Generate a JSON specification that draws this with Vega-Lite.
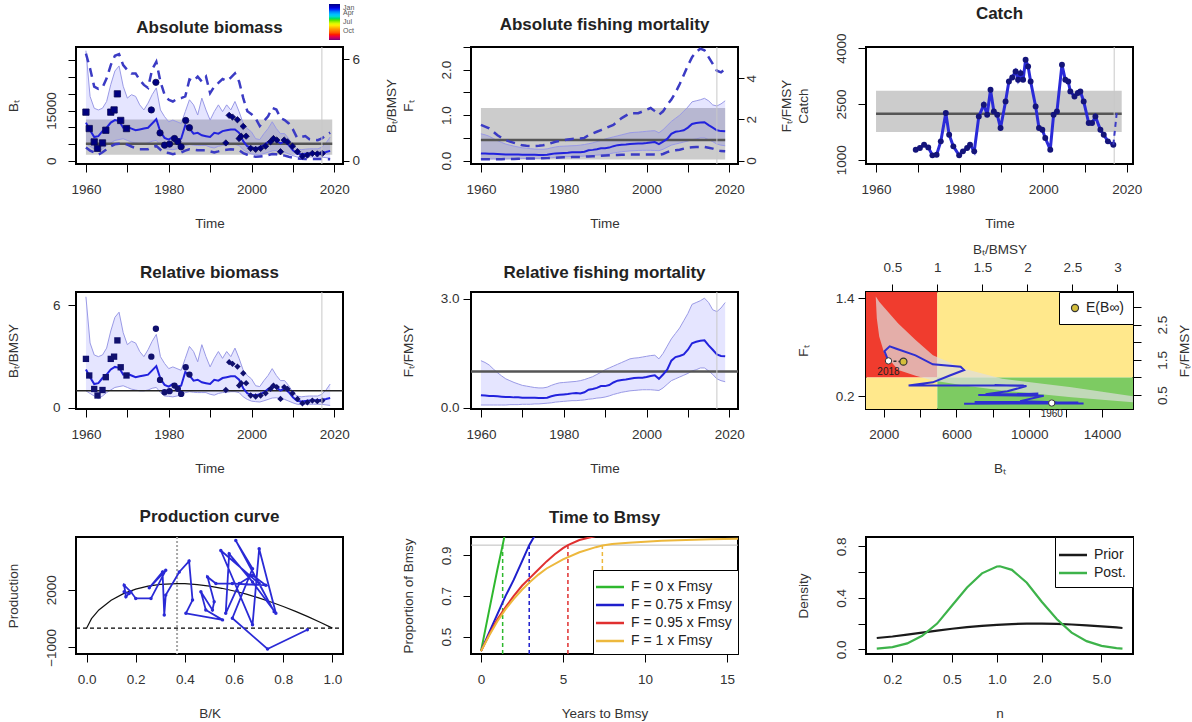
{
"$schema": "https://vega.github.io/schema/vega-lite/v6.json",
"background": "white",
"padding": {"left": 5, "top": 3, "right": 0, "bottom": 0},
"columns": 3,
"bounds": "flush",
"spacing": {"row": 128, "column": 128},
"resolve": {"scale": {"color": "independent", "fill": "independent", "stroke": "independent", "shape": "independent"}, "legend": {"color": "independent", "fill": "independent", "stroke": "independent", "shape": "independent"}},
"datasets": {
"brel": [
{"year":1960,"est":2.25,"lo":1.0,"hi":6.5,"dlo":0.78,"dhi":6.33},
{"year":1961,"est":1.8,"lo":0.85,"hi":3.8,"dlo":0.6,"dhi":5.45},
{"year":1962,"est":1.4,"lo":0.7,"hi":3.1,"dlo":0.49,"dhi":4.38},
{"year":1963,"est":1.45,"lo":0.55,"hi":3.0,"dlo":0.35,"dhi":4.25},
{"year":1964,"est":1.75,"lo":0.7,"hi":3.1,"dlo":0.5,"dhi":4.32},
{"year":1965,"est":1.95,"lo":0.9,"hi":3.5,"dlo":0.68,"dhi":4.87},
{"year":1966,"est":2.25,"lo":1.05,"hi":4.5,"dlo":0.85,"dhi":5.65},
{"year":1967,"est":2.4,"lo":1.2,"hi":5.3,"dlo":0.97,"dhi":6.2},
{"year":1968,"est":2.35,"lo":1.25,"hi":5.6,"dlo":1.0,"dhi":6.3},
{"year":1969,"est":1.95,"lo":1.3,"hi":4.4,"dlo":1.01,"dhi":5.65},
{"year":1970,"est":2.0,"lo":1.2,"hi":3.7,"dlo":0.95,"dhi":5.36},
{"year":1971,"est":1.9,"lo":1.1,"hi":3.9,"dlo":0.84,"dhi":5.16},
{"year":1972,"est":1.8,"lo":1.05,"hi":3.8,"dlo":0.75,"dhi":5.16},
{"year":1973,"est":1.85,"lo":1.0,"hi":3.3,"dlo":0.68,"dhi":4.77},
{"year":1974,"est":1.9,"lo":1.0,"hi":3.0,"dlo":0.68,"dhi":4.48},
{"year":1975,"est":1.95,"lo":1.05,"hi":3.4,"dlo":0.68,"dhi":4.3},
{"year":1976,"est":2.2,"lo":1.15,"hi":3.9,"dlo":0.8,"dhi":5.4},
{"year":1977,"est":2.45,"lo":1.2,"hi":4.3,"dlo":0.88,"dhi":5.84},
{"year":1978,"est":1.7,"lo":0.9,"hi":3.0,"dlo":0.65,"dhi":4.68},
{"year":1979,"est":1.35,"lo":0.7,"hi":2.6,"dlo":0.49,"dhi":3.9},
{"year":1980,"est":1.25,"lo":0.68,"hi":2.3,"dlo":0.45,"dhi":3.6},
{"year":1981,"est":1.4,"lo":0.65,"hi":2.4,"dlo":0.39,"dhi":3.5},
{"year":1982,"est":1.25,"lo":0.7,"hi":2.3,"dlo":0.45,"dhi":3.65},
{"year":1983,"est":1.3,"lo":0.75,"hi":2.2,"dlo":0.49,"dhi":3.7},
{"year":1984,"est":2.1,"lo":0.9,"hi":2.9,"dlo":0.6,"dhi":3.8},
{"year":1985,"est":1.9,"lo":0.95,"hi":3.6,"dlo":0.68,"dhi":4.8},
{"year":1986,"est":1.6,"lo":0.92,"hi":3.3,"dlo":0.65,"dhi":4.7},
{"year":1987,"est":1.65,"lo":0.9,"hi":2.7,"dlo":0.62,"dhi":4.97},
{"year":1988,"est":1.5,"lo":0.9,"hi":3.7,"dlo":0.62,"dhi":4.68},
{"year":1989,"est":1.45,"lo":0.9,"hi":3.0,"dlo":0.62,"dhi":4.97},
{"year":1990,"est":1.4,"lo":0.8,"hi":2.4,"dlo":0.55,"dhi":3.99},
{"year":1991,"est":1.65,"lo":0.75,"hi":2.9,"dlo":0.49,"dhi":4.38},
{"year":1992,"est":1.6,"lo":0.85,"hi":3.3,"dlo":0.55,"dhi":4.6},
{"year":1993,"est":1.75,"lo":0.9,"hi":2.9,"dlo":0.62,"dhi":4.83},
{"year":1994,"est":1.8,"lo":0.92,"hi":3.3,"dlo":0.65,"dhi":4.71},
{"year":1995,"est":1.85,"lo":0.95,"hi":3.0,"dlo":0.68,"dhi":4.91},
{"year":1996,"est":1.85,"lo":0.95,"hi":3.5,"dlo":0.66,"dhi":5.16},
{"year":1997,"est":1.65,"lo":0.9,"hi":2.9,"dlo":0.62,"dhi":4.68},
{"year":1998,"est":1.15,"lo":0.65,"hi":2.2,"dlo":0.45,"dhi":3.7},
{"year":1999,"est":0.85,"lo":0.5,"hi":1.9,"dlo":0.35,"dhi":2.92},
{"year":2000,"est":0.78,"lo":0.4,"hi":1.7,"dlo":0.28,"dhi":2.75},
{"year":2001,"est":0.73,"lo":0.37,"hi":1.3,"dlo":0.23,"dhi":2.5},
{"year":2002,"est":0.8,"lo":0.35,"hi":1.25,"dlo":0.25,"dhi":2.05},
{"year":2003,"est":0.92,"lo":0.42,"hi":1.6,"dlo":0.27,"dhi":2.34},
{"year":2004,"est":1.1,"lo":0.5,"hi":1.9,"dlo":0.33,"dhi":2.63},
{"year":2005,"est":1.25,"lo":0.58,"hi":2.3,"dlo":0.39,"dhi":3.12},
{"year":2006,"est":1.2,"lo":0.6,"hi":1.9,"dlo":0.38,"dhi":3.02},
{"year":2007,"est":1.02,"lo":0.55,"hi":1.6,"dlo":0.35,"dhi":2.53},
{"year":2008,"est":1.15,"lo":0.5,"hi":1.6,"dlo":0.3,"dhi":2.4},
{"year":2009,"est":0.92,"lo":0.4,"hi":1.3,"dlo":0.23,"dhi":2.2},
{"year":2010,"est":0.62,"lo":0.3,"hi":0.9,"dlo":0.18,"dhi":1.85},
{"year":2011,"est":0.42,"lo":0.22,"hi":0.7,"dlo":0.14,"dhi":1.36},
{"year":2012,"est":0.38,"lo":0.2,"hi":0.65,"dlo":0.12,"dhi":1.4},
{"year":2013,"est":0.41,"lo":0.21,"hi":0.68,"dlo":0.1,"dhi":1.46},
{"year":2014,"est":0.44,"lo":0.22,"hi":0.7,"dlo":0.1,"dhi":1.27},
{"year":2015,"est":0.45,"lo":0.22,"hi":0.7,"dlo":0.1,"dhi":1.24},
{"year":2016,"est":0.45,"lo":0.22,"hi":0.7,"dlo":0.1,"dhi":1.21},
{"year":2017,"est":0.48,"lo":0.21,"hi":0.8,"dlo":0.1,"dhi":1.32},
{"year":2018,"est":0.52,"lo":0.18,"hi":1.05,"dlo":0.09,"dhi":1.5},
{"year":2019,"est":0.58,"lo":0.15,"hi":1.4,"dlo":0.08,"dhi":1.66}
],
"idx": [
{"year":1960.0,"v":2.87,"s":1,"m":1},{"year":1960.8,"v":1.9,"s":1,"m":1},{"year":1962.0,"v":1.11,"s":1,"m":1},{"year":1962.8,"v":0.73,"s":1,"m":1},{"year":1964.0,"v":1.05,"s":1,"m":1},{"year":1964.8,"v":1.8,"s":1,"m":1},{"year":1966.0,"v":2.87,"s":1,"m":1},{"year":1966.8,"v":3.0,"s":1,"m":1},{"year":1967.6,"v":3.95,"s":1,"m":1},{"year":1968.4,"v":2.38,"s":1,"m":1},{"year":1969.8,"v":1.9,"s":1,"m":1},
{"year":1975.8,"v":3.0,"s":2,"m":1},{"year":1976.9,"v":4.63,"s":2,"m":1},{"year":1977.9,"v":1.64,"s":2,"m":1},{"year":1979.0,"v":0.92,"s":2,"m":1},{"year":1980.2,"v":0.98,"s":2,"m":1},{"year":1981.4,"v":1.31,"s":2,"m":1},{"year":1982.2,"v":1.12,"s":2,"m":1},{"year":1983.0,"v":0.82,"s":2,"m":1},{"year":1984.1,"v":2.38,"s":2,"m":1},{"year":1985.0,"v":1.95,"s":2,"m":1},
{"year":1993.8,"v":1.05,"s":3,"m":1},{"year":1994.6,"v":2.68,"s":3,"m":1},{"year":1995.4,"v":2.58,"s":3,"m":1},{"year":1996.6,"v":2.42,"s":3,"m":1},{"year":1997.0,"v":1.31,"s":3,"m":1},{"year":1997.5,"v":1.45,"s":3,"m":1},{"year":1998.0,"v":2.03,"s":3,"m":1},{"year":1998.7,"v":1.45,"s":3,"m":1},{"year":1999.8,"v":0.73,"s":3,"m":1},{"year":2001.0,"v":0.67,"s":3,"m":1},{"year":2002.2,"v":0.73,"s":3,"m":1},{"year":2003.4,"v":0.86,"s":3,"m":1},{"year":2004.6,"v":1.12,"s":3,"m":1},{"year":2005.3,"v":1.31,"s":3,"m":1},{"year":2006.1,"v":1.22,"s":3,"m":1},{"year":2007.0,"v":0.53,"s":3,"m":1},{"year":2007.9,"v":1.22,"s":3,"m":1},{"year":2008.7,"v":1.11,"s":3,"m":1},{"year":2009.9,"v":0.86,"s":3,"m":1},{"year":2011.1,"v":0.53,"s":3,"m":1},{"year":2012.3,"v":0.27,"s":3,"m":1},{"year":2013.5,"v":0.33,"s":3,"m":1},{"year":2014.7,"v":0.43,"s":3,"m":1},{"year":2015.9,"v":0.4,"s":3,"m":1},{"year":2017.1,"v":0.43,"s":3,"m":1}
],
"frel": [
{"year":1960,"est":0.35,"lo":0.08,"hi":1.3,"dlo":0.07,"dhi":1.73},
{"year":1961,"est":0.34,"lo":0.08,"hi":1.25,"dlo":0.07,"dhi":1.65},
{"year":1962,"est":0.33,"lo":0.08,"hi":1.18,"dlo":0.07,"dhi":1.56},
{"year":1963,"est":0.33,"lo":0.08,"hi":1.07,"dlo":0.07,"dhi":1.4},
{"year":1964,"est":0.32,"lo":0.08,"hi":0.97,"dlo":0.07,"dhi":1.23},
{"year":1965,"est":0.31,"lo":0.08,"hi":0.88,"dlo":0.07,"dhi":1.1},
{"year":1966,"est":0.3,"lo":0.08,"hi":0.8,"dlo":0.08,"dhi":0.99},
{"year":1967,"est":0.3,"lo":0.09,"hi":0.75,"dlo":0.08,"dhi":0.92},
{"year":1968,"est":0.29,"lo":0.09,"hi":0.7,"dlo":0.08,"dhi":0.86},
{"year":1969,"est":0.29,"lo":0.09,"hi":0.66,"dlo":0.09,"dhi":0.8},
{"year":1970,"est":0.28,"lo":0.1,"hi":0.62,"dlo":0.1,"dhi":0.74},
{"year":1971,"est":0.28,"lo":0.1,"hi":0.6,"dlo":0.1,"dhi":0.72},
{"year":1972,"est":0.28,"lo":0.1,"hi":0.58,"dlo":0.1,"dhi":0.71},
{"year":1973,"est":0.28,"lo":0.11,"hi":0.56,"dlo":0.1,"dhi":0.71},
{"year":1974,"est":0.27,"lo":0.11,"hi":0.55,"dlo":0.11,"dhi":0.72},
{"year":1975,"est":0.27,"lo":0.12,"hi":0.55,"dlo":0.11,"dhi":0.74},
{"year":1976,"est":0.28,"lo":0.13,"hi":0.57,"dlo":0.12,"dhi":0.78},
{"year":1977,"est":0.32,"lo":0.14,"hi":0.62,"dlo":0.13,"dhi":0.85},
{"year":1978,"est":0.35,"lo":0.16,"hi":0.66,"dlo":0.14,"dhi":0.91},
{"year":1979,"est":0.36,"lo":0.17,"hi":0.69,"dlo":0.15,"dhi":0.95},
{"year":1980,"est":0.37,"lo":0.18,"hi":0.7,"dlo":0.16,"dhi":0.99},
{"year":1981,"est":0.38,"lo":0.19,"hi":0.71,"dlo":0.16,"dhi":1.02},
{"year":1982,"est":0.4,"lo":0.2,"hi":0.72,"dlo":0.17,"dhi":1.05},
{"year":1983,"est":0.41,"lo":0.2,"hi":0.73,"dlo":0.18,"dhi":1.07},
{"year":1984,"est":0.4,"lo":0.21,"hi":0.75,"dlo":0.18,"dhi":1.07},
{"year":1985,"est":0.43,"lo":0.22,"hi":0.78,"dlo":0.19,"dhi":1.1},
{"year":1986,"est":0.5,"lo":0.24,"hi":0.82,"dlo":0.2,"dhi":1.23},
{"year":1987,"est":0.52,"lo":0.25,"hi":0.86,"dlo":0.21,"dhi":1.32},
{"year":1988,"est":0.55,"lo":0.27,"hi":0.92,"dlo":0.22,"dhi":1.4},
{"year":1989,"est":0.6,"lo":0.28,"hi":0.98,"dlo":0.23,"dhi":1.48},
{"year":1990,"est":0.6,"lo":0.3,"hi":1.05,"dlo":0.25,"dhi":1.56},
{"year":1991,"est":0.63,"lo":0.33,"hi":1.1,"dlo":0.26,"dhi":1.65},
{"year":1992,"est":0.7,"lo":0.37,"hi":1.15,"dlo":0.27,"dhi":1.73},
{"year":1993,"est":0.75,"lo":0.4,"hi":1.2,"dlo":0.27,"dhi":1.9},
{"year":1994,"est":0.77,"lo":0.43,"hi":1.25,"dlo":0.28,"dhi":2.06},
{"year":1995,"est":0.78,"lo":0.45,"hi":1.3,"dlo":0.28,"dhi":2.18},
{"year":1996,"est":0.8,"lo":0.47,"hi":1.35,"dlo":0.29,"dhi":2.3},
{"year":1997,"est":0.82,"lo":0.48,"hi":1.37,"dlo":0.29,"dhi":2.3},
{"year":1998,"est":0.83,"lo":0.49,"hi":1.38,"dlo":0.3,"dhi":2.3},
{"year":1999,"est":0.83,"lo":0.5,"hi":1.4,"dlo":0.3,"dhi":2.38},
{"year":2000,"est":0.85,"lo":0.5,"hi":1.42,"dlo":0.3,"dhi":2.47},
{"year":2001,"est":0.88,"lo":0.5,"hi":1.44,"dlo":0.3,"dhi":2.55},
{"year":2002,"est":0.9,"lo":0.49,"hi":1.45,"dlo":0.29,"dhi":2.4},
{"year":2003,"est":0.8,"lo":0.48,"hi":1.35,"dlo":0.28,"dhi":2.22},
{"year":2004,"est":0.92,"lo":0.55,"hi":1.5,"dlo":0.32,"dhi":2.39},
{"year":2005,"est":1.05,"lo":0.65,"hi":1.7,"dlo":0.41,"dhi":2.7},
{"year":2006,"est":1.3,"lo":0.75,"hi":1.9,"dlo":0.47,"dhi":2.96},
{"year":2007,"est":1.4,"lo":0.8,"hi":2.05,"dlo":0.5,"dhi":3.3},
{"year":2008,"est":1.43,"lo":0.85,"hi":2.2,"dlo":0.53,"dhi":3.7},
{"year":2009,"est":1.47,"lo":0.9,"hi":2.4,"dlo":0.58,"dhi":4.15},
{"year":2010,"est":1.6,"lo":0.95,"hi":2.6,"dlo":0.63,"dhi":4.61},
{"year":2011,"est":1.78,"lo":1.02,"hi":2.85,"dlo":0.65,"dhi":5.02},
{"year":2012,"est":1.82,"lo":1.05,"hi":2.9,"dlo":0.66,"dhi":5.27},
{"year":2013,"est":1.85,"lo":1.1,"hi":2.95,"dlo":0.66,"dhi":5.43},
{"year":2014,"est":1.86,"lo":1.1,"hi":3.02,"dlo":0.66,"dhi":5.35},
{"year":2015,"est":1.72,"lo":1.02,"hi":2.9,"dlo":0.62,"dhi":5.02},
{"year":2016,"est":1.6,"lo":0.92,"hi":2.7,"dlo":0.58,"dhi":4.69},
{"year":2017,"est":1.47,"lo":0.8,"hi":2.65,"dlo":0.52,"dhi":4.36},
{"year":2018,"est":1.43,"lo":0.75,"hi":2.75,"dlo":0.46,"dhi":4.28},
{"year":2019,"est":1.42,"lo":0.72,"hi":2.9,"dlo":0.45,"dhi":4.44}
],
"catch": [
{"year":1969.5,"c":1269},{"year":1970.5,"c":1313},{"year":1971.5,"c":1403},{"year":1972.5,"c":1331},{"year":1973.5,"c":1116},{"year":1974.5,"c":1134},{"year":1975.5,"c":1493},{"year":1976.7,"c":2254},{"year":1977.5,"c":1672},{"year":1978.5,"c":1358},{"year":1979.9,"c":1116},{"year":1980.8,"c":1224},{"year":1981.8,"c":1313},{"year":1982.5,"c":1403},{"year":1983.5,"c":1224},{"year":1984.6,"c":2164},{"year":1985.8,"c":2478},{"year":1986.6,"c":2209},{"year":1987.4,"c":2881},{"year":1988.2,"c":2298},{"year":1989.0,"c":2209},{"year":1989.8,"c":1851},{"year":1991.0,"c":2567},{"year":1991.8,"c":3104},{"year":1992.6,"c":3212},{"year":1993.4,"c":3373},{"year":1994.0,"c":3149},{"year":1994.6,"c":3328},{"year":1995.2,"c":3149},{"year":1995.8,"c":3687},{"year":1996.4,"c":3507},{"year":1997.0,"c":3104},{"year":1998.2,"c":2433},{"year":1999.0,"c":1851},{"year":1999.8,"c":1806},{"year":2000.5,"c":1582},{"year":2001.7,"c":1269},{"year":2002.5,"c":2209},{"year":2003.3,"c":2298},{"year":2004.5,"c":3552},{"year":2005.3,"c":3149},{"year":2006.0,"c":3104},{"year":2006.5,"c":2836},{"year":2007.5,"c":2701},{"year":2008.3,"c":2791},{"year":2008.9,"c":2836},{"year":2009.7,"c":2567},{"year":2010.9,"c":1985},{"year":2011.7,"c":1985},{"year":2012.5,"c":2164},{"year":2013.7,"c":1806},{"year":2014.5,"c":1672},{"year":2015.5,"c":1493},{"year":2016.8,"c":1403}
],
"zones": [
{"x1":1028,"x2":4950,"y1":0.43,"y2":1.474,"zone":"red"},
{"x1":1028,"x2":4950,"y1":0.044,"y2":0.43,"zone":"yellow"},
{"x1":4950,"x2":15706,"y1":0.43,"y2":1.474,"zone":"yellow"},
{"x1":4950,"x2":15706,"y1":0.044,"y2":0.43,"zone":"green"}
],
"banana": [
{"B":1566,"lo":1.4,"hi":1.42},{"B":1623,"lo":1.15,"hi":1.4},{"B":1754,"lo":0.93,"hi":1.355},{"B":2040,"lo":0.72,"hi":1.28},{"B":2800,"lo":0.52,"hi":1.09},{"B":3754,"lo":0.45,"hi":0.887},{"B":4709,"lo":0.393,"hi":0.7},{"B":6423,"lo":0.33,"hi":0.537},{"B":8514,"lo":0.27,"hi":0.413},{"B":12326,"lo":0.188,"hi":0.311},{"B":15700,"lo":0.126,"hi":0.2}
],
"kobe": [
{"i":1,"B":11240,"F":0.117},{"i":2,"B":12990,"F":0.112},{"i":3,"B":9000,"F":0.11},{"i":4,"B":6420,"F":0.108},{"i":5,"B":8500,"F":0.115},{"i":6,"B":12700,"F":0.122},{"i":7,"B":10000,"F":0.128},{"i":8,"B":7000,"F":0.13},{"i":9,"B":11500,"F":0.125},{"i":10,"B":9500,"F":0.14},{"i":11,"B":10800,"F":0.205},{"i":12,"B":7200,"F":0.215},{"i":13,"B":9000,"F":0.22},{"i":14,"B":10500,"F":0.23},{"i":15,"B":7600,"F":0.225},{"i":16,"B":8800,"F":0.26},{"i":17,"B":9850,"F":0.325},{"i":18,"B":8100,"F":0.335},{"i":19,"B":9700,"F":0.33},{"i":20,"B":6600,"F":0.33},{"i":21,"B":3370,"F":0.33},{"i":22,"B":4700,"F":0.37},{"i":23,"B":5600,"F":0.45},{"i":24,"B":6420,"F":0.52},{"i":25,"B":6230,"F":0.56},{"i":26,"B":4700,"F":0.59},{"i":27,"B":3750,"F":0.7},{"i":28,"B":2700,"F":0.78},{"i":29,"B":2330,"F":0.81},{"i":30,"B":2040,"F":0.75},{"i":31,"B":2263,"F":0.632}
],
"kyears": [{"B":11240,"F":0.117,"lab":"1960"},{"B":2263,"F":0.632,"lab":"2018"}],
"keq": [{"B":3086,"F":0.623,"lab":"E(B∞)"}],
"kseg": [{"B":2263,"F":0.632},{"B":3086,"F":0.623}],
"prodcurve": [
{"bk":0,"p":0},{"bk":0.02,"p":493},{"bk":0.05,"p":945},{"bk":0.1,"p":1452},{"bk":0.15,"p":1795},{"bk":0.2,"p":2030},{"bk":0.25,"p":2186},{"bk":0.3,"p":2278},{"bk":0.368,"p":2320},{"bk":0.4,"p":2311},{"bk":0.45,"p":2266},{"bk":0.5,"p":2186},{"bk":0.55,"p":2073},{"bk":0.6,"p":1933},{"bk":0.65,"p":1766},{"bk":0.7,"p":1574},{"bk":0.75,"p":1361},{"bk":0.8,"p":1126},{"bk":0.85,"p":871},{"bk":0.9,"p":598},{"bk":0.95,"p":307},{"bk":1.0,"p":0}
],
"prodpath": [
{"i":1,"bk":0.898,"p":-86},{"i":2,"bk":0.736,"p":-1082},{"i":3,"bk":0.593,"p":515},{"i":4,"bk":0.675,"p":3093},{"i":5,"bk":0.607,"p":4553},{"i":6,"bk":0.763,"p":859},{"i":7,"bk":0.702,"p":2319},{"i":8,"bk":0.546,"p":4038},{"i":9,"bk":0.675,"p":172},{"i":10,"bk":0.702,"p":4124},{"i":11,"bk":0.77,"p":773},{"i":12,"bk":0.675,"p":2405},{"i":13,"bk":0.58,"p":3866},{"i":14,"bk":0.566,"p":773},{"i":15,"bk":0.621,"p":2319},{"i":16,"bk":0.675,"p":2749},{"i":17,"bk":0.729,"p":2233},{"i":18,"bk":0.593,"p":2319},{"i":19,"bk":0.526,"p":2319},{"i":20,"bk":0.492,"p":2663},{"i":21,"bk":0.519,"p":1374},{"i":22,"bk":0.512,"p":945},{"i":23,"bk":0.465,"p":1890},{"i":24,"bk":0.485,"p":945},{"i":25,"bk":0.553,"p":430},{"i":26,"bk":0.404,"p":773},{"i":27,"bk":0.431,"p":1460},{"i":28,"bk":0.417,"p":3488},{"i":29,"bk":0.377,"p":2921},{"i":30,"bk":0.322,"p":1718},{"i":31,"bk":0.316,"p":687},{"i":32,"bk":0.309,"p":2921},{"i":33,"bk":0.255,"p":2096},{"i":34,"bk":0.322,"p":3007},{"i":35,"bk":0.262,"p":1546},{"i":36,"bk":0.2,"p":1546},{"i":37,"bk":0.18,"p":1890},{"i":38,"bk":0.153,"p":2233},{"i":39,"bk":0.16,"p":1632},{"i":40,"bk":0.173,"p":1804},{"i":41,"bk":0.153,"p":1890}
],
"ttb": [
{"scen":"F = 0 x Fmsy","t":0,"v":0.428},{"scen":"F = 0 x Fmsy","t":0.5,"v":0.63},{"scen":"F = 0 x Fmsy","t":1.0,"v":0.83},{"scen":"F = 0 x Fmsy","t":1.32,"v":0.95},{"scen":"F = 0 x Fmsy","t":1.5,"v":1.02},
{"scen":"F = 0.75 x Fmsy","t":0,"v":0.428},{"scen":"F = 0.75 x Fmsy","t":0.5,"v":0.52},{"scen":"F = 0.75 x Fmsy","t":1,"v":0.61},{"scen":"F = 0.75 x Fmsy","t":1.5,"v":0.7},{"scen":"F = 0.75 x Fmsy","t":2,"v":0.78},{"scen":"F = 0.75 x Fmsy","t":2.5,"v":0.87},{"scen":"F = 0.75 x Fmsy","t":2.94,"v":0.95},{"scen":"F = 0.75 x Fmsy","t":3.3,"v":1.0},{"scen":"F = 0.75 x Fmsy","t":3.5,"v":1.03},
{"scen":"F = 0.95 x Fmsy","t":0,"v":0.428},{"scen":"F = 0.95 x Fmsy","t":0.5,"v":0.51},{"scen":"F = 0.95 x Fmsy","t":1,"v":0.585},{"scen":"F = 0.95 x Fmsy","t":1.5,"v":0.645},{"scen":"F = 0.95 x Fmsy","t":2,"v":0.7},{"scen":"F = 0.95 x Fmsy","t":2.5,"v":0.75},{"scen":"F = 0.95 x Fmsy","t":3,"v":0.79},{"scen":"F = 0.95 x Fmsy","t":3.5,"v":0.83},{"scen":"F = 0.95 x Fmsy","t":4,"v":0.87},{"scen":"F = 0.95 x Fmsy","t":4.5,"v":0.905},{"scen":"F = 0.95 x Fmsy","t":5,"v":0.935},{"scen":"F = 0.95 x Fmsy","t":5.3,"v":0.95},{"scen":"F = 0.95 x Fmsy","t":6,"v":0.975},{"scen":"F = 0.95 x Fmsy","t":7,"v":0.995},{"scen":"F = 0.95 x Fmsy","t":8,"v":1.01},
{"scen":"F = 1 x Fmsy","t":0,"v":0.428},{"scen":"F = 1 x Fmsy","t":0.5,"v":0.505},{"scen":"F = 1 x Fmsy","t":1,"v":0.575},{"scen":"F = 1 x Fmsy","t":1.5,"v":0.635},{"scen":"F = 1 x Fmsy","t":2,"v":0.685},{"scen":"F = 1 x Fmsy","t":2.5,"v":0.73},{"scen":"F = 1 x Fmsy","t":3,"v":0.77},{"scen":"F = 1 x Fmsy","t":3.5,"v":0.805},{"scen":"F = 1 x Fmsy","t":4,"v":0.835},{"scen":"F = 1 x Fmsy","t":5,"v":0.88},{"scen":"F = 1 x Fmsy","t":6,"v":0.915},{"scen":"F = 1 x Fmsy","t":7,"v":0.94},{"scen":"F = 1 x Fmsy","t":7.4,"v":0.948},{"scen":"F = 1 x Fmsy","t":8,"v":0.955},{"scen":"F = 1 x Fmsy","t":9,"v":0.962},{"scen":"F = 1 x Fmsy","t":10,"v":0.967},{"scen":"F = 1 x Fmsy","t":11,"v":0.971},{"scen":"F = 1 x Fmsy","t":12,"v":0.974},{"scen":"F = 1 x Fmsy","t":13,"v":0.977},{"scen":"F = 1 x Fmsy","t":14,"v":0.979},{"scen":"F = 1 x Fmsy","t":15.7,"v":0.981}
],
"nd": [
{"dist":"Prior","n":0.157,"d":0.088},{"dist":"Prior","n":0.2,"d":0.1},{"dist":"Prior","n":0.251,"d":0.115},{"dist":"Prior","n":0.316,"d":0.13},{"dist":"Prior","n":0.398,"d":0.145},{"dist":"Prior","n":0.501,"d":0.16},{"dist":"Prior","n":0.631,"d":0.172},{"dist":"Prior","n":0.794,"d":0.183},{"dist":"Prior","n":1.0,"d":0.19},{"dist":"Prior","n":1.259,"d":0.196},{"dist":"Prior","n":1.585,"d":0.2},{"dist":"Prior","n":1.995,"d":0.2},{"dist":"Prior","n":2.512,"d":0.198},{"dist":"Prior","n":3.162,"d":0.193},{"dist":"Prior","n":3.981,"d":0.186},{"dist":"Prior","n":5.012,"d":0.178},{"dist":"Prior","n":6.31,"d":0.17},{"dist":"Prior","n":6.92,"d":0.166},
{"dist":"Post.","n":0.157,"d":0.006},{"dist":"Post.","n":0.2,"d":0.018},{"dist":"Post.","n":0.251,"d":0.046},{"dist":"Post.","n":0.316,"d":0.105},{"dist":"Post.","n":0.398,"d":0.2},{"dist":"Post.","n":0.501,"d":0.34},{"dist":"Post.","n":0.631,"d":0.48},{"dist":"Post.","n":0.794,"d":0.59},{"dist":"Post.","n":1.0,"d":0.643},{"dist":"Post.","n":1.047,"d":0.645},{"dist":"Post.","n":1.259,"d":0.617},{"dist":"Post.","n":1.585,"d":0.517},{"dist":"Post.","n":1.995,"d":0.37},{"dist":"Post.","n":2.512,"d":0.235},{"dist":"Post.","n":3.162,"d":0.13},{"dist":"Post.","n":3.981,"d":0.064},{"dist":"Post.","n":5.012,"d":0.027},{"dist":"Post.","n":6.31,"d":0.01},{"dist":"Post.","n":6.92,"d":0.006}
]
},
"concat": [
{
"title": {"text": "Absolute biomass", "offset": -33},
"width": 267, "height": 117,
"layer": [
{
"encoding": {"x": {"field": "year", "type": "quantitative", "scale": {"domain": [1957.6, 2022.1], "nice": false, "zero": false}, "axis": {"title": "Time", "values": [1960,1970,1980,1990,2000,2010,2020], "format": "d", "labelOverlap": false, "labelExpr": "datum.value % 20 == 0 ? datum.label : ''"}}},
"layer": [
{"data": {"values": [{"year": 1960, "year2": 2019.5, "lo": 0.35, "hi": 2.44}]}, "mark": {"type": "rect", "color": "#9a9a9a", "opacity": 0.5},
 "encoding": {"x2": {"field": "year2"}, "y": {"field": "lo", "type": "quantitative", "scale": {"domain": [-0.195, 6.72], "nice": false, "zero": false}, "axis": {"orient": "right", "title": "Bₜ/BMSY", "values": [0,2,4,6], "format": "d", "labelOverlap": false, "labelAngle": 0, "labelAlign": "left", "labelBaseline": "middle", "labelPadding": 3}}, "y2": {"field": "hi"}}},
{"data": {"name": "brel"}, "mark": {"type": "area", "color": "#0000ff", "opacity": 0.1}, "encoding": {"y": {"field": "lo", "type": "quantitative"}, "y2": {"field": "hi"}}},
{"data": {"name": "brel"}, "mark": {"type": "line", "color": "#9a9ae6", "strokeWidth": 1}, "encoding": {"y": {"field": "hi", "type": "quantitative"}}},
{"data": {"name": "brel"}, "mark": {"type": "line", "color": "#9a9ae6", "strokeWidth": 1}, "encoding": {"y": {"field": "lo", "type": "quantitative"}}},
{"data": {"values": [{"year": 1960, "year2": 2019.5, "v": 1}]}, "mark": {"type": "rule", "color": "#555555", "strokeWidth": 2.5}, "encoding": {"x2": {"field": "year2"}, "y": {"field": "v", "type": "quantitative"}}},
{"data": {"name": "brel"}, "mark": {"type": "line", "color": "#2222dd", "strokeWidth": 2}, "encoding": {"y": {"field": "est", "type": "quantitative"}}},
{"data": {"name": "brel"}, "mark": {"type": "line", "color": "#3b3bc4", "strokeWidth": 2.5, "strokeDash": [9, 6]}, "encoding": {"y": {"field": "dhi", "type": "quantitative"}}},
{"data": {"name": "brel"}, "mark": {"type": "line", "color": "#3b3bc4", "strokeWidth": 2.5, "strokeDash": [9, 6]}, "encoding": {"y": {"field": "dlo", "type": "quantitative"}}},
{"data": {"name": "idx"}, "mark": {"type": "point", "filled": true, "size": 40, "opacity": 1, "stroke": "#0a0a50", "strokeWidth": 0.8},
 "encoding": {"y": {"field": "v", "type": "quantitative"},
  "shape": {"field": "s", "type": "nominal", "scale": {"domain": [1,2,3], "range": ["square","circle","diamond"]}, "legend": null},
  "fill": {"field": "m", "type": "quantitative", "scale": {"domain": [0, 1], "range": ["#7a0078","#ff0000","#ff8c00","#ffff00","#00dd00","#00bfff","#0000ff","#000080"]},
   "legend": {"title": null, "orient": "none", "legendX": 253, "legendY": -43, "direction": "vertical", "gradientLength": 36, "gradientThickness": 11, "gradientStrokeWidth": 0, "values": [1, 0.75, 0.5, 0.25], "labelOverlap": false, "labelExpr": "datum.value == 1 ? 'Jan' : datum.value == 0.75 ? 'Apr' : datum.value == 0.5 ? 'Jul' : 'Oct'", "labelFontSize": 7, "labelOffset": 3, "labelColor": "#555555",
    "encode": {"labels": {"update": {"angle": {"value": 90}, "align": {"value": "left"}, "baseline": {"value": "middle"}}}}}}}},
{"data": {"values": [{"year": 2017}]}, "mark": {"type": "rule", "color": "#c8c8c8", "strokeWidth": 1}, "encoding": {}}
]
},
{"data": {"values": [{"v": 0}]}, "mark": {"type": "point", "opacity": 0}, "encoding": {"y": {"field": "v", "type": "quantitative", "scale": {"domain": [-988, 34040], "nice": false, "zero": false}, "axis": {"orient": "left", "title": "Bₜ", "values": [0,5000,10000,15000,20000,25000,30000], "format": "d", "labelOverlap": false, "labelExpr": "datum.value == 0 || datum.value == 15000 ? datum.label : ''"}}}}
],
"resolve": {"scale": {"y": "independent"}}
},
{
"title": {"text": "Absolute fishing mortality"},
"width": 267, "height": 117,
"layer": [
{
"encoding": {"x": {"field": "year", "type": "quantitative", "scale": {"domain": [1957.6, 2022.1], "nice": false, "zero": false}, "axis": {"title": "Time", "values": [1960,1970,1980,1990,2000,2010,2020], "format": "d", "labelOverlap": false, "labelExpr": "datum.value % 20 == 0 ? datum.label : ''"}}},
"layer": [
{"data": {"values": [{"year": 1960, "year2": 2019, "lo": 0.05, "hi": 2.55}]}, "mark": {"type": "rect", "color": "#9a9a9a", "opacity": 0.5},
 "encoding": {"x2": {"field": "year2"}, "y": {"field": "lo", "type": "quantitative", "scale": {"domain": [-0.165, 5.51], "nice": false, "zero": false}, "axis": {"orient": "right", "title": "Fₜ/FMSY", "values": [0,1,2,3,4,5], "format": "d", "labelOverlap": false, "labelExpr": "datum.value % 2 == 0 ? datum.label : ''"}}, "y2": {"field": "hi"}}},
{"data": {"name": "frel"}, "mark": {"type": "area", "color": "#0000ff", "opacity": 0.1}, "encoding": {"y": {"field": "lo", "type": "quantitative"}, "y2": {"field": "hi"}}},
{"data": {"name": "frel"}, "mark": {"type": "line", "color": "#9a9ae6", "strokeWidth": 1}, "encoding": {"y": {"field": "hi", "type": "quantitative"}}},
{"data": {"name": "frel"}, "mark": {"type": "line", "color": "#9a9ae6", "strokeWidth": 1}, "encoding": {"y": {"field": "lo", "type": "quantitative"}}},
{"data": {"values": [{"year": 1960, "year2": 2019, "v": 1}]}, "mark": {"type": "rule", "color": "#555555", "strokeWidth": 2.5}, "encoding": {"x2": {"field": "year2"}, "y": {"field": "v", "type": "quantitative"}}},
{"data": {"name": "frel"}, "mark": {"type": "line", "color": "#2222dd", "strokeWidth": 2}, "encoding": {"y": {"field": "est", "type": "quantitative"}}},
{"data": {"name": "frel"}, "mark": {"type": "line", "color": "#3b3bc4", "strokeWidth": 2.5, "strokeDash": [9, 6]}, "encoding": {"y": {"field": "dhi", "type": "quantitative"}}},
{"data": {"name": "frel"}, "mark": {"type": "line", "color": "#3b3bc4", "strokeWidth": 2.5, "strokeDash": [9, 6]}, "encoding": {"y": {"field": "dlo", "type": "quantitative"}}},
{"data": {"values": [{"year": 2017}]}, "mark": {"type": "rule", "color": "#c8c8c8", "strokeWidth": 1}, "encoding": {}}
]
},
{"data": {"values": [{"v": 0}]}, "mark": {"type": "point", "opacity": 0}, "encoding": {"y": {"field": "v", "type": "quantitative", "scale": {"domain": [-0.075, 2.5], "nice": false, "zero": false}, "axis": {"orient": "left", "title": "Fₜ", "values": [0,0.5,1,1.5,2,2.5], "format": ".1f", "labelOverlap": false, "labelExpr": "datum.value % 1 == 0 ? datum.label : ''"}}}}
],
"resolve": {"scale": {"y": "independent"}}
},
{
"title": {"text": "Catch"},
"width": 267, "height": 117,
"encoding": {"x": {"field": "year", "type": "quantitative", "scale": {"domain": [1957.6, 2021.5], "nice": false, "zero": false}, "axis": {"title": "Time", "values": [1960,1970,1980,1990,2000,2010,2020], "format": "d", "labelOverlap": false, "labelExpr": "datum.value % 20 == 0 ? datum.label : ''"}}},
"layer": [
{"data": {"values": [{"year": 1960, "year2": 2018.8, "lo": 1743, "hi": 2853}]}, "mark": {"type": "rect", "color": "#9a9a9a", "opacity": 0.5},
 "encoding": {"x2": {"field": "year2"}, "y": {"field": "lo", "type": "quantitative", "scale": {"domain": [884, 4030], "nice": false, "zero": false}, "axis": {"title": "Catch", "values": [1000,2500,4000], "format": "d", "labelOverlap": false}}, "y2": {"field": "hi"}}},
{"data": {"values": [{"year": 1960, "year2": 2018.8, "c": 2235}]}, "mark": {"type": "rule", "color": "#555555", "strokeWidth": 2.5}, "encoding": {"x2": {"field": "year2"}, "y": {"field": "c", "type": "quantitative"}}},
{"data": {"values": [{"year": 2017}]}, "mark": {"type": "rule", "color": "#c8c8c8", "strokeWidth": 1}, "encoding": {}},
{"data": {"name": "catch"}, "mark": {"type": "line", "color": "#2a2ad8", "strokeWidth": 3}, "encoding": {"y": {"field": "c", "type": "quantitative"}}},
{"data": {"name": "catch"}, "mark": {"type": "point", "filled": true, "color": "#14147a", "size": 35, "opacity": 1}, "encoding": {"y": {"field": "c", "type": "quantitative"}}},
{"data": {"values": [{"year": 2016.8, "c": 1403}, {"year": 2017.6, "c": 2254}]}, "mark": {"type": "line", "color": "#3b3bc4", "strokeWidth": 2, "strokeDash": [5, 4]}, "encoding": {"y": {"field": "c", "type": "quantitative"}}}
]
},
{
"title": {"text": "Relative biomass"},
"width": 267, "height": 117,
"encoding": {"x": {"field": "year", "type": "quantitative", "scale": {"domain": [1957.6, 2022.1], "nice": false, "zero": false}, "axis": {"title": "Time", "values": [1960,1970,1980,1990,2000,2010,2020], "format": "d", "labelOverlap": false, "labelExpr": "datum.value % 20 == 0 ? datum.label : ''"}}},
"layer": [
{"data": {"name": "brel"}, "mark": {"type": "area", "color": "#0000ff", "opacity": 0.1}, "encoding": {"y": {"field": "lo", "type": "quantitative", "scale": {"domain": [-0.06, 6.78], "nice": false, "zero": false}, "axis": {"title": "Bₜ/BMSY", "values": [0,2,4,6], "format": "d", "labelOverlap": false, "labelAngle": 0, "labelAlign": "right", "labelBaseline": "middle", "labelPadding": 8}}, "y2": {"field": "hi"}}},
{"data": {"name": "brel"}, "mark": {"type": "line", "color": "#9a9ae6", "strokeWidth": 1}, "encoding": {"y": {"field": "hi", "type": "quantitative"}}},
{"data": {"name": "brel"}, "mark": {"type": "line", "color": "#9a9ae6", "strokeWidth": 1}, "encoding": {"y": {"field": "lo", "type": "quantitative"}}},
{"data": {"values": [{"year": 1957.6, "year2": 2022.1, "v": 1}]}, "mark": {"type": "rule", "color": "#222222", "strokeWidth": 1.5}, "encoding": {"x2": {"field": "year2"}, "y": {"field": "v", "type": "quantitative"}}},
{"data": {"name": "brel"}, "mark": {"type": "line", "color": "#2222dd", "strokeWidth": 2}, "encoding": {"y": {"field": "est", "type": "quantitative"}}},
{"data": {"name": "idx"}, "mark": {"type": "point", "filled": true, "size": 40, "opacity": 1, "color": "#10106e"}, "encoding": {"y": {"field": "v", "type": "quantitative"}, "shape": {"field": "s", "type": "nominal", "scale": {"domain": [1,2,3], "range": ["square","circle","diamond"]}, "legend": null}}},
{"data": {"values": [{"year": 2017}]}, "mark": {"type": "rule", "color": "#c8c8c8", "strokeWidth": 1}, "encoding": {}}
]
},
{
"title": {"text": "Relative fishing mortality"},
"width": 267, "height": 117,
"encoding": {"x": {"field": "year", "type": "quantitative", "scale": {"domain": [1957.6, 2022.1], "nice": false, "zero": false}, "axis": {"title": "Time", "values": [1960,1970,1980,1990,2000,2010,2020], "format": "d", "labelOverlap": false, "labelExpr": "datum.value % 20 == 0 ? datum.label : ''"}}},
"layer": [
{"data": {"name": "frel"}, "mark": {"type": "area", "color": "#0000ff", "opacity": 0.1}, "encoding": {"y": {"field": "lo", "type": "quantitative", "scale": {"domain": [-0.03, 3.19], "nice": false, "zero": false}, "axis": {"title": "Fₜ/FMSY", "values": [0,1,2,3], "format": ".1f", "labelOverlap": false, "labelAngle": 0, "labelAlign": "right", "labelBaseline": "middle", "labelPadding": 4}}, "y2": {"field": "hi"}}},
{"data": {"name": "frel"}, "mark": {"type": "line", "color": "#9a9ae6", "strokeWidth": 1}, "encoding": {"y": {"field": "hi", "type": "quantitative"}}},
{"data": {"name": "frel"}, "mark": {"type": "line", "color": "#9a9ae6", "strokeWidth": 1}, "encoding": {"y": {"field": "lo", "type": "quantitative"}}},
{"data": {"values": [{"year": 1957.6, "year2": 2022.1, "v": 1}]}, "mark": {"type": "rule", "color": "#555555", "strokeWidth": 2.5}, "encoding": {"x2": {"field": "year2"}, "y": {"field": "v", "type": "quantitative"}}},
{"data": {"name": "frel"}, "mark": {"type": "line", "color": "#2222dd", "strokeWidth": 2}, "encoding": {"y": {"field": "est", "type": "quantitative"}}},
{"data": {"values": [{"year": 2017}]}, "mark": {"type": "rule", "color": "#c8c8c8", "strokeWidth": 1}, "encoding": {}}
]
},
{
"width": 267, "height": 117,
"layer": [
{"layer": [
{"data": {"name": "zones"}, "mark": {"type": "rect"},
 "encoding": {"x": {"field": "x1", "type": "quantitative", "scale": {"domain": [1028, 15706], "nice": false, "zero": false}, "axis": {"orient": "bottom", "title": "Bₜ", "values": [2000,4000,6000,8000,10000,12000,14000], "format": "d", "labelOverlap": false, "labelExpr": "datum.value % 4000 == 2000 ? datum.label : ''"}},
  "x2": {"field": "x2"},
  "y": {"field": "y1", "type": "quantitative", "scale": {"domain": [0.044, 1.474], "nice": false, "zero": false}, "axis": {"orient": "left", "title": "Fₜ", "values": [0.2,0.6,1.0,1.4], "format": ".1f", "labelOverlap": false, "labelAngle": 0, "labelAlign": "right", "labelBaseline": "middle", "labelPadding": 4}},
  "y2": {"field": "y2"},
  "color": {"field": "zone", "type": "nominal", "scale": {"domain": ["red","yellow","green"], "range": ["#f03c2e","#ffe88c","#7dcb62"]}, "legend": null}}},
{"data": {"name": "banana"}, "mark": {"type": "area", "color": "#dedede", "opacity": 0.7}, "encoding": {"x": {"field": "B", "type": "quantitative"}, "y": {"field": "lo", "type": "quantitative"}, "y2": {"field": "hi"}}},
{"data": {"name": "kobe"}, "mark": {"type": "line", "color": "#2f2fd0", "strokeWidth": 2}, "encoding": {"x": {"field": "B", "type": "quantitative"}, "y": {"field": "F", "type": "quantitative"}, "order": {"field": "i", "type": "quantitative"}}},
{"data": {"name": "kseg"}, "mark": {"type": "line", "color": "#333333", "strokeWidth": 1.5, "strokeDash": [3, 2]}, "encoding": {"x": {"field": "B", "type": "quantitative"}, "y": {"field": "F", "type": "quantitative"}}},
{"data": {"name": "kyears"}, "mark": {"type": "point", "filled": true, "fill": "#ffffff", "stroke": "#333333", "strokeWidth": 1, "size": 40, "opacity": 1}, "encoding": {"x": {"field": "B", "type": "quantitative"}, "y": {"field": "F", "type": "quantitative"}}},
{"data": {"name": "kyears"}, "mark": {"type": "text", "dy": 11, "fontSize": 10, "color": "#222222"}, "encoding": {"x": {"field": "B", "type": "quantitative"}, "y": {"field": "F", "type": "quantitative"}, "text": {"field": "lab"}}},
{"data": {"name": "keq"}, "mark": {"type": "point", "filled": true, "stroke": "#333333", "strokeWidth": 1.2, "size": 50, "opacity": 1},
 "encoding": {"x": {"field": "B", "type": "quantitative"}, "y": {"field": "F", "type": "quantitative"},
  "fill": {"field": "lab", "type": "nominal", "scale": {"domain": ["E(B∞)"], "range": ["#d4be3c"]},
   "legend": {"title": null, "orient": "top-right", "offset": 0, "strokeColor": "#000000", "fillColor": "#ffffff", "padding": 9, "labelFontSize": 14, "symbolSize": 50, "symbolType": "circle", "symbolStrokeColor": "#333333", "symbolStrokeWidth": 1.2}}}}
]},
{"data": {"values": [{"a": 1}]}, "mark": {"type": "point", "opacity": 0}, "encoding": {"x": {"field": "a", "type": "quantitative", "scale": {"domain": [0.2077, 3.173], "nice": false, "zero": false}, "axis": {"orient": "top", "title": "Bₜ/BMSY", "values": [0.5,1,1.5,2,2.5,3], "format": "~g", "labelOverlap": false}}, "y": {"field": "a", "type": "quantitative", "axis": null}}},
{"data": {"values": [{"a": 1}]}, "mark": {"type": "point", "opacity": 0}, "encoding": {"x": {"field": "a", "type": "quantitative", "axis": null}, "y": {"field": "a", "type": "quantitative", "scale": {"domain": [0.102, 3.428], "nice": false, "zero": false}, "axis": {"orient": "right", "title": "Fₜ/FMSY", "values": [0.5,1,1.5,2,2.5,3], "format": "~g", "labelOverlap": false, "labelExpr": "datum.value == 0.5 || datum.value == 1.5 || datum.value == 2.5 ? datum.label : ''", "tickSize": 8, "labelPadding": 14, "minExtent": 36, "maxExtent": 36, "titlePadding": 8}}}}
],
"resolve": {"scale": {"x": "independent", "y": "independent"}}
},
{
"title": {"text": "Production curve"},
"width": 267, "height": 117,
"layer": [
{"data": {"values": [{"bk": -0.043, "bk2": 1.043, "p": 0}]}, "mark": {"type": "rule", "color": "#000000", "strokeWidth": 1.2, "strokeDash": [4, 3]},
 "encoding": {"x": {"field": "bk", "type": "quantitative", "scale": {"domain": [-0.043, 1.043], "nice": false, "zero": false}, "axis": {"title": "B/K", "values": [0,0.2,0.4,0.6,0.8,1], "format": ".1f", "labelOverlap": false}}, "x2": {"field": "bk2"},
  "y": {"field": "p", "type": "quantitative", "scale": {"domain": [-1344, 4740], "nice": false, "zero": false}, "axis": {"title": "Production", "values": [-1000,2000], "format": "d", "labelOverlap": false}}}},
{"data": {"values": [{"bk": 0.368}]}, "mark": {"type": "rule", "color": "#a8a8a8", "strokeWidth": 2, "strokeDash": [2, 2]}, "encoding": {"x": {"field": "bk", "type": "quantitative"}}},
{"data": {"name": "prodcurve"}, "mark": {"type": "line", "color": "#111111", "strokeWidth": 1.2}, "encoding": {"x": {"field": "bk", "type": "quantitative"}, "y": {"field": "p", "type": "quantitative"}}},
{"data": {"name": "prodpath"}, "mark": {"type": "line", "color": "#2a2ad6", "strokeWidth": 1.8}, "encoding": {"x": {"field": "bk", "type": "quantitative"}, "y": {"field": "p", "type": "quantitative"}, "order": {"field": "i", "type": "quantitative"}}},
{"data": {"name": "prodpath"}, "mark": {"type": "point", "filled": true, "color": "#2a2ad6", "size": 12, "opacity": 1}, "encoding": {"x": {"field": "bk", "type": "quantitative"}, "y": {"field": "p", "type": "quantitative"}}}
]
},
{
"title": {"text": "Time to Bmsy"},
"width": 267, "height": 117,
"layer": [
{"data": {"values": [{"t": -0.61, "t2": 15.67, "v": 0.95}]}, "mark": {"type": "rule", "color": "#bdbdbd", "strokeWidth": 1},
 "encoding": {"x": {"field": "t", "type": "quantitative", "scale": {"domain": [-0.61, 15.67], "nice": false, "zero": false}, "axis": {"title": "Years to Bmsy", "values": [0,5,10,15], "labelOverlap": false}}, "x2": {"field": "t2"},
  "y": {"field": "v", "type": "quantitative", "scale": {"domain": [0.414, 0.99], "nice": false, "zero": false}, "axis": {"title": "Proportion of Bmsy", "values": [0.5,0.6,0.7,0.8,0.9], "format": ".1f", "labelOverlap": false, "labelExpr": "indexof(['0.5','0.7','0.9'], datum.label) >= 0 ? datum.label : ''"}}}},
{"data": {"values": [{"t": 1.32, "lo": 0.414, "hi": 0.95}]}, "mark": {"type": "rule", "color": "#2eb82e", "strokeDash": [4, 3], "strokeWidth": 1.5}, "encoding": {"x": {"field": "t", "type": "quantitative"}, "y": {"field": "lo", "type": "quantitative"}, "y2": {"field": "hi"}}},
{"data": {"values": [{"t": 2.94, "lo": 0.414, "hi": 0.95}]}, "mark": {"type": "rule", "color": "#1f1fcc", "strokeDash": [4, 3], "strokeWidth": 1.5}, "encoding": {"x": {"field": "t", "type": "quantitative"}, "y": {"field": "lo", "type": "quantitative"}, "y2": {"field": "hi"}}},
{"data": {"values": [{"t": 5.3, "lo": 0.414, "hi": 0.95}]}, "mark": {"type": "rule", "color": "#e03030", "strokeDash": [4, 3], "strokeWidth": 1.5}, "encoding": {"x": {"field": "t", "type": "quantitative"}, "y": {"field": "lo", "type": "quantitative"}, "y2": {"field": "hi"}}},
{"data": {"values": [{"t": 7.4, "lo": 0.414, "hi": 0.95}]}, "mark": {"type": "rule", "color": "#edb83d", "strokeDash": [4, 3], "strokeWidth": 1.5}, "encoding": {"x": {"field": "t", "type": "quantitative"}, "y": {"field": "lo", "type": "quantitative"}, "y2": {"field": "hi"}}},
{"data": {"name": "ttb"}, "mark": {"type": "line", "strokeWidth": 2, "clip": true},
 "encoding": {"x": {"field": "t", "type": "quantitative"}, "y": {"field": "v", "type": "quantitative"},
  "color": {"field": "scen", "type": "nominal", "scale": {"domain": ["F = 0 x Fmsy","F = 0.75 x Fmsy","F = 0.95 x Fmsy","F = 1 x Fmsy"], "range": ["#2eb82e","#1f1fcc","#e03030","#edb83d"]},
   "legend": {"title": null, "orient": "bottom-right", "offset": 0, "strokeColor": "#000000", "fillColor": "#ffffff", "padding": 6, "symbolType": "M-1.5,0H1.5", "symbolStrokeWidth": 2.5, "symbolSize": 350, "labelFontSize": 14, "rowPadding": 0, "labelOffset": 10, "labelLimit": 300}}}}
]
},
{
"width": 267, "height": 117,
"data": {"name": "nd"},
"mark": {"type": "line", "strokeWidth": 2.2},
"encoding": {
 "x": {"field": "n", "type": "quantitative", "scale": {"type": "log", "domain": [0.133, 8.14], "nice": false}, "axis": {"title": "n", "values": [0.2,0.5,1,2,5], "format": ".1f", "labelOverlap": false}},
 "y": {"field": "d", "type": "quantitative", "scale": {"domain": [-0.036, 0.872], "nice": false, "zero": false}, "axis": {"title": "Density", "values": [0,0.2,0.4,0.6,0.8], "format": ".1f", "labelOverlap": false, "labelExpr": "indexof(['0.0','0.4','0.8'], datum.label) >= 0 ? datum.label : ''"}},
 "color": {"field": "dist", "type": "nominal", "scale": {"domain": ["Prior","Post."], "range": ["#1a1a1a","#3db34a"]},
  "legend": {"title": null, "orient": "top-right", "offset": 0, "strokeColor": "#000000", "fillColor": "#ffffff", "padding": 7, "symbolType": "M-1.5,0H1.5", "symbolStrokeWidth": 2.5, "symbolSize": 350, "labelFontSize": 14, "rowPadding": 0, "labelOffset": 10}}
}
}
],
"config": {
 "font": "Liberation Sans",
 "view": {"stroke": "#000000", "strokeWidth": 2},
 "axis": {"grid": false, "domain": false, "ticks": true, "tickColor": "#000000", "tickWidth": 1, "tickSize": 8, "labelFont": "Liberation Sans", "labelFontSize": 13.5, "labelColor": "#333333", "titleFont": "Liberation Sans", "titleFontSize": 13.5, "titleFontWeight": "normal", "titleColor": "#333333", "labelOverlap": false, "labelFlush": false},
 "axisLeft": {"labelAngle": 270, "labelAlign": "center", "labelBaseline": "bottom", "labelPadding": 10, "minExtent": 32, "maxExtent": 32, "titlePadding": 24},
 "axisRight": {"labelAngle": 270, "labelAlign": "center", "labelBaseline": "top", "labelPadding": 0, "tickSize": 6, "minExtent": 20, "maxExtent": 20, "titlePadding": 21, "titleAngle": 270, "titleBaseline": "top"},
 "axisBottom": {"labelPadding": 10, "minExtent": 32, "maxExtent": 32, "titlePadding": 20},
 "axisTop": {"labelPadding": 10, "minExtent": 32, "maxExtent": 32, "titlePadding": 4},
 "title": {"font": "Liberation Sans", "fontSize": 17, "fontWeight": "bold", "color": "#222222", "offset": 10},
 "legend": {"labelFont": "Liberation Sans", "labelColor": "#222222", "labelOverlap": false}
}
}
